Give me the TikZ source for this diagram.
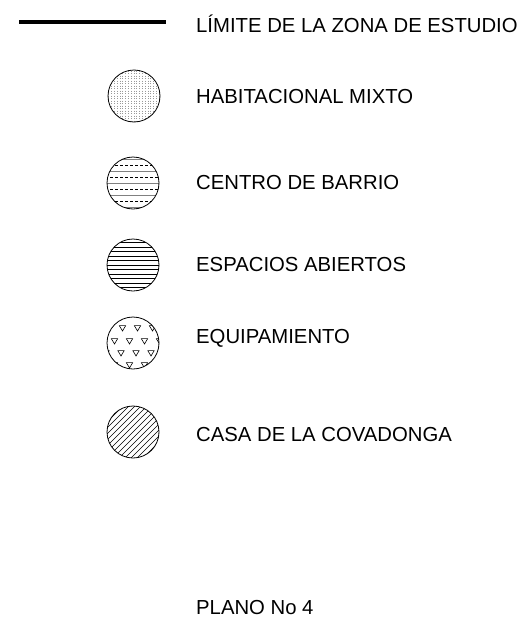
\documentclass[tikz,border=0pt]{standalone}
\usepackage{fontspec}
\setmainfont{Liberation Sans}
\usetikzlibrary{patterns}
\begin{document}
\begin{tikzpicture}[x=1pt,y=-1pt,
  lbl/.style={anchor=west, inner sep=0pt, font=\fontsize{20.3}{24}\selectfont},
  swatch/.style={circle, draw=black, line width=0.8pt, minimum size=52pt, inner sep=0pt},
  hl/.style={line width=0.6pt, black},
  tri/.style={draw=black, line width=0.6pt}]
\useasboundingbox (0,0) rectangle (529,629);
% header line
\coordinate (la) at (19,22);
\coordinate (lb) at (166,22);
\draw[line width=4pt] (la) -- (lb);
\node[lbl] (t0) at (196,24) {LÍMITE DE LA ZONA DE ESTUDIO};
% swatch 1: dotted
\begin{scope}
  \clip (134,96) circle [radius=26pt];
  \foreach \i in {-9,...,9} {
    \draw[line width=0.9pt, gray!80, dash pattern=on 0.9pt off 1.6pt] (134+\i*2.8,68) -- (134+\i*2.8,124);
  }
\end{scope}
\node[swatch] (c1) at (134,96) {};
\node[lbl] (t1) at (196,97) {HABITACIONAL MIXTO};
% swatch 2: alternating solid / dashed lines
\begin{scope}
  \clip (133,183) circle [radius=26pt];
  \foreach \i in {-4,...,4} {
    \pgfmathtruncatemacro{\m}{mod(\i+4,2)}
    \ifnum\m=0
      \draw[hl, gray] (105,183+\i*6) -- (161,183+\i*6);
    \else
      \draw[hl, dash pattern=on 3pt off 2pt] (105,183+\i*6) -- (161,183+\i*6);
    \fi
  }
\end{scope}
\node[swatch] (c2) at (133,183) {};
\node[lbl] (t2) at (196,183) {CENTRO DE BARRIO};
% swatch 3: horizontal lines
\begin{scope}
  \clip (133,265) circle [radius=26pt];
  \foreach \i in {-6,...,6} {
    \draw[hl] (105,265+\i*4.5) -- (161,265+\i*4.5);
  }
\end{scope}
\node[swatch] (c3) at (133,265) {};
\node[lbl] (t3) at (196,265) {ESPACIOS ABIERTOS};
% swatch 4: triangles
\begin{scope}[shift={(133,343)}]
  \clip (0,0) circle [radius=26pt];
  \foreach \dx/\dy in {-10.5/-15, 4.5/-15, 19.5/-15,
                       -18.5/-2, -3.5/-2, 11.5/-2, 26.5/-2,
                       -27/10, -12/10, 3/10, 18/10,
                       -18.5/22, -3.5/22, 11.5/22} {
    \draw[tri] (\dx-3.2,\dy-2.4) -- (\dx+3.2,\dy-2.4) -- (\dx,\dy+3) -- cycle;
  }
\end{scope}
\node[swatch] (c4) at (133,343) {};
\node[lbl] (t4) at (196,338) {EQUIPAMIENTO};
% swatch 5: diagonal hatch
\begin{scope}
  \clip (133,432) circle [radius=26pt];
  \foreach \i in {-10,...,10} {
    \draw[hl] (133+\i*6-30,432+30) -- (133+\i*6+30,432-30);
  }
\end{scope}
\node[swatch] (c5) at (133,432) {};
\node[lbl] (t5) at (196,435) {CASA DE LA COVADONGA};
% footer
\node[lbl] (t6) at (196,608) {PLANO No 4};
\end{tikzpicture}
\end{document}
